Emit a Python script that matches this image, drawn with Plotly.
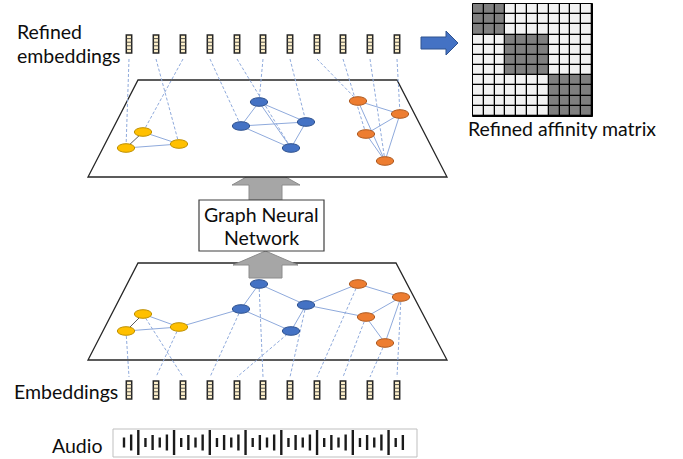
import plotly.graph_objects as go

# ---------------- data ----------------
emb_x = [129, 156, 183, 210, 237, 263, 290, 317, 343, 370, 397]
emb_top_y = [35, 53]
emb_bot_y = [381, 399]
emb_cells = 5

node_names = ["Y1", "Y2", "Y3", "B1", "B2", "B3", "B4", "O1", "O2", "O3", "O4"]
node_color = {"Y": "#ffc000", "B": "#4472c4", "O": "#ed7d31"}
node_edge = {"Y": "#bf9000", "B": "#2f528f", "O": "#ae5a21"}

top_nodes_x = [143, 126, 179, 259, 241, 306, 291, 358, 400, 366, 385]
top_nodes_y = [132, 148, 144, 102, 126, 122, 148, 101, 114, 134, 161]
bot_nodes_x = [143, 126, 179, 259, 241, 306, 291, 358, 401, 366, 385]
bot_nodes_y = [314, 331, 327, 284, 309, 305, 331, 284, 297, 317, 343]

top_edges = [("Y1", "Y2"), ("Y1", "Y3"), ("Y2", "Y3"),
             ("B1", "B2"), ("B1", "B3"), ("B1", "B4"), ("B2", "B3"), ("B2", "B4"), ("B3", "B4"),
             ("O1", "O2"), ("O2", "O3"), ("O2", "O4"), ("O3", "O4"), ("O1", "O4")]
bot_edges = [("Y1", "Y2"), ("Y1", "Y3"), ("Y2", "Y3"), ("Y3", "B2"),
             ("B2", "B1"), ("B2", "B4"), ("B1", "B3"), ("B3", "B4"),
             ("B3", "O1"), ("B3", "O3"), ("O1", "O2"), ("O2", "O3"), ("O2", "O4"), ("O3", "O4")]
emb_to_node = ["Y2", "Y3", "Y1", "B2", "B4", "B1", "B3", "O1", "O3", "O4", "O2"]

affinity = [
    [1, 1, 1, 0, 0, 0, 0, 0, 0, 0, 0],
    [1, 1, 1, 0, 0, 0, 0, 0, 0, 0, 0],
    [1, 1, 1, 0, 0, 0, 0, 0, 0, 0, 0],
    [0, 0, 0, 1, 1, 1, 1, 0, 0, 0, 0],
    [0, 0, 0, 1, 1, 1, 1, 0, 0, 0, 0],
    [0, 0, 0, 1, 1, 1, 1, 0, 0, 0, 0],
    [0, 0, 0, 1, 1, 1, 1, 0, 0, 0, 0],
    [0, 0, 0, 0, 0, 0, 0, 1, 1, 1, 1],
    [0, 0, 0, 0, 0, 0, 0, 1, 1, 1, 1],
    [0, 0, 0, 0, 0, 0, 0, 1, 1, 1, 1],
    [0, 0, 0, 0, 0, 0, 0, 1, 1, 1, 1],
]

audio_heights = [10, 16, 25, 9, 15, 10, 16, 25, 9, 15,
                 10, 16, 25, 9, 15, 10, 16, 25, 9, 15,
                 10, 16, 25, 9, 15, 10, 16, 25, 9, 15,
                 10, 16, 25, 9, 15, 10, 16, 25, 9, 15]

labels = {
    "Refined": (15, 31),
    "embeddings": (15, 55),
    "Embeddings": (12, 391),
    "Audio": (50, 445),
}

# ---------------- layout helpers ----------------
W, H = 683, 459
FONT = "Lato"
TXT = "#0d0d0d"
shapes = []
annotations = []

def line(x0, y0, x1, y1, color, width=1, dash="solid"):
    shapes.append(dict(type="line", x0=x0, y0=y0, x1=x1, y1=y1, xref="x", yref="y",
                       line=dict(color=color, width=width, dash=dash)))

def path(d, fill, color, width=1):
    shapes.append(dict(type="path", path=d, xref="x", yref="y", fillcolor=fill,
                       line=dict(color=color, width=width)))

# upper gray arrow (partly hidden by the top plane)
path("M249,200 L282,200 L282,185 L300,185 L266,166 L232,185 L249,185 Z", "#a6a6a6", "#8c8c8c", 1)
# planes
path("M138,80 L397,80 L447,177 L88,177 Z", "white", "#262626", 1.3)
path("M138,263 L396,263 L447,360 L88,360 Z", "white", "#262626", 1.3)
# lower gray arrow
path("M249,278 L282,278 L282,265 L298,265 L265.5,251 L233,265 L249,265 Z", "#a6a6a6", "#8c8c8c", 1)
# GNN box
shapes.append(dict(type="rect", x0=199, y0=200, x1=324, y1=251, xref="x", yref="y",
                   fillcolor="white", line=dict(color="#404040", width=1.2)))
# blue arrow
path("M421,37 L446,37 L446,31 L458,43 L446,55 L446,49 L421,49 Z", "#4472c4", "#2f528f", 1)
# audio box
shapes.append(dict(type="rect", x0=113, y0=429, x1=417, y1=457, xref="x", yref="y",
                   fillcolor="rgba(0,0,0,0)", line=dict(color="#bfbfbf", width=1)))

idx = {n: i for i, n in enumerate(node_names)}
EDGE = "#8faadc"

# dashed links
for ex, n in zip(emb_x, emb_to_node):
    i = idx[n]
    line(ex, 59, top_nodes_x[i], top_nodes_y[i], EDGE, 1, "3px,2px")
    line(bot_nodes_x[i], bot_nodes_y[i], ex, 377, EDGE, 1, "3px,2px")

# solid edges
for edges, xs, ys in [(top_edges, top_nodes_x, top_nodes_y), (bot_edges, bot_nodes_x, bot_nodes_y)]:
    for a, b in edges:
        c = "#595959" if (a, b) == ("Y1", "Y2") else EDGE
        line(xs[idx[a]], ys[idx[a]], xs[idx[b]], ys[idx[b]], c, 1)

# nodes
RX, RY = 8.7, 4.3
for xs, ys in [(top_nodes_x, top_nodes_y), (bot_nodes_x, bot_nodes_y)]:
    for n, x, y in zip(node_names, xs, ys):
        shapes.append(dict(type="circle", x0=x - RX, x1=x + RX, y0=y - RY, y1=y + RY,
                           xref="x", yref="y", fillcolor=node_color[n[0]],
                           line=dict(color=node_edge[n[0]], width=1)))

# embedding icons
for (y0, y1) in [emb_top_y, emb_bot_y]:
    for ex in emb_x:
        shapes.append(dict(type="rect", x0=ex - 2.7, x1=ex + 2.7, y0=y0, y1=y1, xref="x", yref="y",
                           fillcolor="#fff2cc", line=dict(color="#262626", width=1.5)))
        step = (y1 - y0) / emb_cells
        for k in range(1, emb_cells):
            line(ex - 2.7, y0 + k * step, ex + 2.7, y0 + k * step, "#404040", 0.9)

# matrix background (grid colour)
MX0, MX1, MY0, MY1 = 473, 592, 4, 116
shapes.append(dict(type="rect", x0=MX0 - 0.5, x1=MX1 + 0.5, y0=MY0 - 0.5, y1=MY1 + 0.5,
                   xref="x", yref="y", layer="below", fillcolor="black",
                   line=dict(color="black", width=1)))
nc = len(affinity)
cw = (MX1 - MX0) / nc
ch = (MY1 - MY0) / nc
mx = [MX0 + cw * (i + 0.5) for i in range(nc)]
my = [MY0 + ch * (j + 0.5) for j in range(nc)]

fig = go.Figure()
fig.add_trace(go.Heatmap(z=affinity, x=mx, y=my, xgap=1.3, ygap=1.3, showscale=False,
                         colorscale=[[0, "#f2f2f2"], [1, "#7f7f7f"]], zmin=0, zmax=1,
                         hoverinfo="skip"))

# audio bars
ax, ay = [], []
for i, h in enumerate(audio_heights):
    x = 124 + i * 7.15
    ax += [x, x, None]
    ay += [442.5 - h / 2, 442.5 + h / 2, None]
fig.add_trace(go.Scatter(x=ax, y=ay, mode="lines", line=dict(color="#1a1a1a", width=2.4),
                         hoverinfo="skip", showlegend=False))

for t, (x, y) in labels.items():
    annotations.append(dict(x=x, y=y, xref="x", yref="y", text=t, showarrow=False,
                            xanchor="left", yanchor="middle",
                            font=dict(family=FONT, size=19.5, color=TXT)))
annotations.append(dict(x=261.5, y=214, xref="x", yref="y", text="Graph Neural", showarrow=False,
                        xanchor="center", yanchor="middle", font=dict(family=FONT, size=19.5, color=TXT)))
annotations.append(dict(x=261.5, y=237, xref="x", yref="y", text="Network", showarrow=False,
                        xanchor="center", yanchor="middle", font=dict(family=FONT, size=19.5, color=TXT)))
annotations.append(dict(x=562, y=128, xref="x", yref="y", text="Refined affinity matrix", showarrow=False,
                        xanchor="center", yanchor="middle", font=dict(family=FONT, size=19.5, color=TXT)))

fig.update_layout(
    width=W, height=H, margin=dict(l=0, r=0, t=0, b=0),
    paper_bgcolor="white", plot_bgcolor="white",
    xaxis=dict(range=[0, W], visible=False, fixedrange=True),
    yaxis=dict(range=[H, 0], visible=False, fixedrange=True),
    shapes=shapes, annotations=annotations, showlegend=False,
)
fig.write_html("out.html", config={"displayModeBar": False},
               post_script="document.body.style.margin='0';")
